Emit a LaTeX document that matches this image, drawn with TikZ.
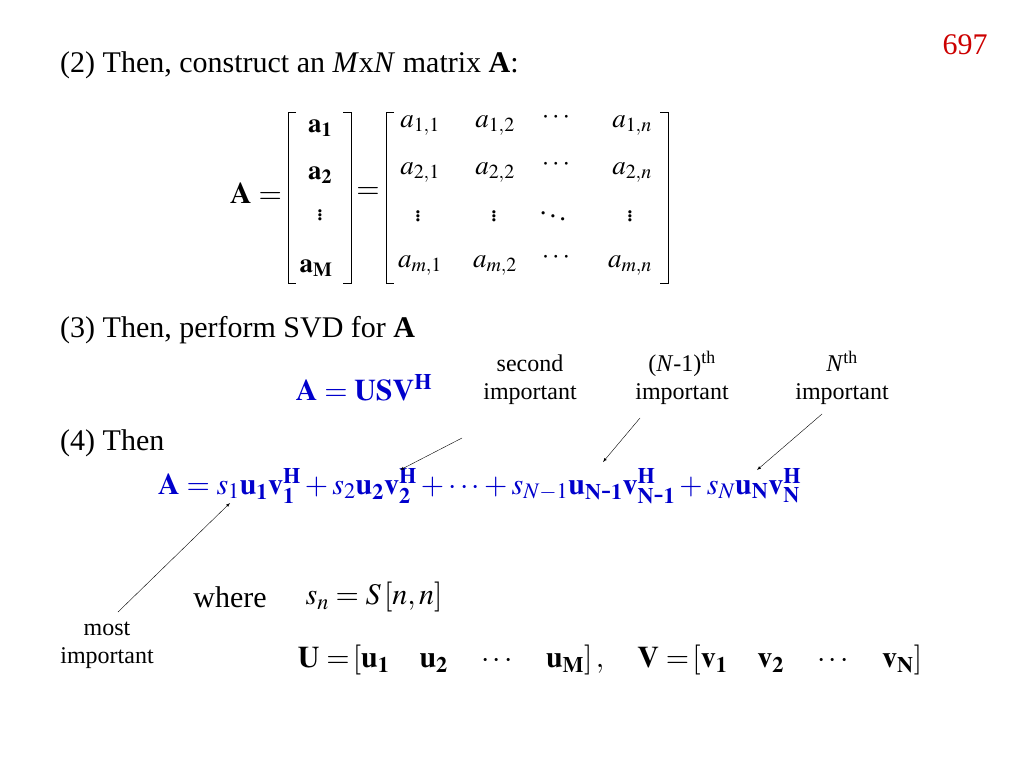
\documentclass[tikz,border=0pt]{standalone}
\usepackage{mathptmx}
\usepackage{fontspec}
\setmainfont{Liberation Serif}
\begin{document}
\begin{tikzpicture}[x=1pt,y=-1pt,
  txt/.style={inner sep=0pt,font=\fontsize{30}{34}\selectfont},
  ent/.style={inner sep=0pt,font=\fontsize{27}{30}\selectfont},
  lab/.style={inner sep=1pt,font=\fontsize{24}{28}\selectfont,align=center},
  eq/.style={inner sep=0pt,font=\fontsize{30}{34}\selectfont,text=blue!80!black},
  arr/.style={-latex,thin},
  brk/.style={line width=0.8pt}]
\useasboundingbox (0,0) rectangle (1024,768);
\node[txt,text=red!80!black] (pg) at (965,45) {697};
\node[txt,anchor=west] (t2) at (60,65) {(2) Then, construct an \textit{M}x\textit{N} matrix \textbf{A}:};
% matrix
\node[txt] (Aeq) at (256,193) {$\mathbf{A}=$};
\draw[brk] (296,112) -- (288,112) -- (288,283) -- (296,283);
\draw[brk] (343,112) -- (351,112) -- (351,283) -- (343,283);
\node[ent] (r1) at (320,128) {$\mathbf{a_1}$};
\node[ent] (r2) at (320,175) {$\mathbf{a_2}$};
\node[ent] (r3) at (320,212) {$\vdots$};
\node[ent] (r4) at (316,268) {$\mathbf{a_M}$};
\node[txt] (eqs) at (368,193) {$=$};
\draw[brk] (394,112) -- (386,112) -- (386,283) -- (394,283);
\draw[brk] (660,112) -- (668,112) -- (668,283) -- (660,283);
\node[ent] (m11) at (420,126) {$a_{1,1}$};
\node[ent] (m12) at (495,126) {$a_{1,2}$};
\node[ent] (m13) at (556,118) {$\cdots$};
\node[ent] (m14) at (632,126) {$a_{1,n}$};
\node[ent] (m21) at (420,173) {$a_{2,1}$};
\node[ent] (m22) at (495,173) {$a_{2,2}$};
\node[ent] (m23) at (556,165) {$\cdots$};
\node[ent] (m24) at (632,173) {$a_{2,n}$};
\node[ent] (m31) at (418,213) {$\vdots$};
\node[ent] (m32) at (494,213) {$\vdots$};
\node[ent] (m33) at (553,213) {$\ddots$};
\node[ent] (m34) at (630,213) {$\vdots$};
\node[ent] (m41) at (420,266) {$a_{m,1}$};
\node[ent] (m42) at (495,266) {$a_{m,2}$};
\node[ent] (m43) at (556,258) {$\cdots$};
\node[ent] (m44) at (630,266) {$a_{m,n}$};
\node[txt,anchor=west] (t3) at (60,330) {(3) Then, perform SVD for \textbf{A}};
\node[eq] (svd) at (364,388) {$\mathbf{A}=\mathbf{USV^H}$};
\node[lab] (l2) at (530,380) {second\\important};
\node[lab] (l3) at (682,378) {(\textit{N}-1)\textsuperscript{th}\\important};
\node[lab] (l4) at (842,378) {\textit{N}\textsuperscript{th}\\important};
\node[txt,anchor=west] (t4) at (60,443) {(4) Then};
\node[eq,anchor=west] (big) at (158,486) {$\mathbf{A}=s_1\mathbf{u_1}\mathbf{v_1^H}+s_2\mathbf{u_2}\mathbf{v_2^H}+\cdots+s_{N-1}\mathbf{u_{N\mbox{-}1}}\mathbf{v_{N\mbox{-}1}^H}+s_N\mathbf{u_N}\mathbf{v_N^H}$};
\coordinate (c1) at (230,503);
\coordinate (c2) at (400,470);
\coordinate (c3) at (603,462);
\coordinate (c4) at (757,470);
\coordinate (s1) at (118,612);
\coordinate (s2) at (462,438);
\coordinate (s3) at (640,418);
\coordinate (s4) at (822,414);
\node[lab] (l1) at (107,645) {most\\important};
\draw[arr] (s1) -- (c1);
\draw[arr] (s2) -- (c2);
\draw[arr] (s3) -- (c3);
\draw[arr] (s4) -- (c4);
\node[txt] (wh) at (230,597) {where};
\node[txt] (sn) at (374,597) {$s_n=S\left[n,n\right]$};
\node[txt] (uv) at (610,660) {$\mathbf{U=}\left[\mathbf{u_1}\quad\mathbf{u_2}\quad\cdots\quad\mathbf{u_M}\right],\quad\mathbf{V=}\left[\mathbf{v_1}\quad\mathbf{v_2}\quad\cdots\quad\mathbf{v_N}\right]$};
\end{tikzpicture}
\end{document}
